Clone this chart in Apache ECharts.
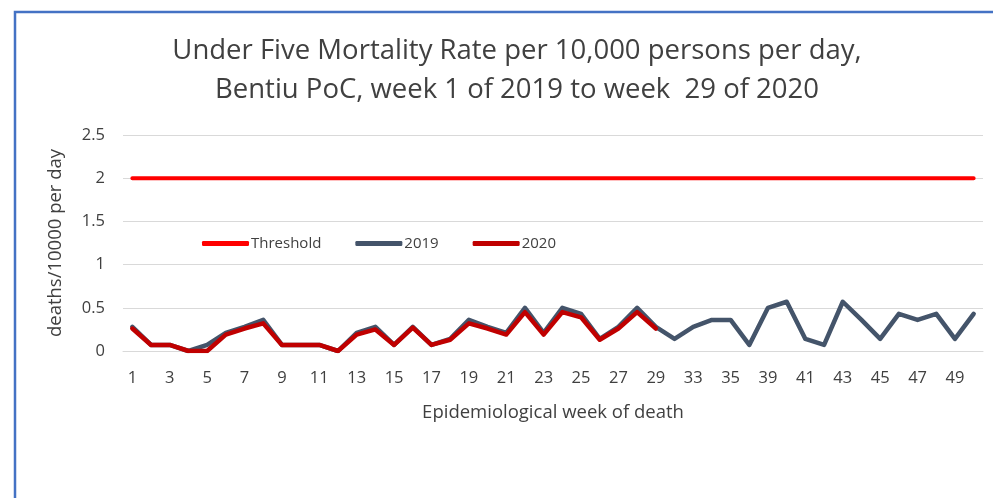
<!DOCTYPE html>
<html>
<head>
<meta charset="utf-8">
<script src="https://cdn.jsdelivr.net/npm/echarts@6/dist/echarts.min.js"></script>
<style>
  html, body { margin: 0; padding: 0; background: #fff; }
  #chart { width: 993px; height: 498px; }
</style>
</head>
<body>
<div id="chart"></div>
<script>
// epidemiological weeks shown on the axis
const weeks = ['1', '2', '3', '4', '5', '6', '7', '8', '9', '10', '11', '12', '13', '14', '15',
  '16', '17', '18', '19', '20', '21', '22', '23', '24', '25', '26', '27', '28', '29', '30',
  '33', '34', '35', '36', '39', '40', '41', '42', '43', '44', '45', '46', '47', '48', '49', '50'];

const threshold = [2, 2, 2, 2, 2, 2, 2, 2, 2, 2, 2, 2, 2, 2, 2, 2, 2, 2, 2, 2, 2, 2, 2,
  2, 2, 2, 2, 2, 2, 2, 2, 2, 2, 2, 2, 2, 2, 2, 2, 2, 2, 2, 2, 2, 2, 2];

const rate2019 = [0.28, 0.07, 0.07, 0, 0.07, 0.21, 0.28, 0.36, 0.07, 0.07, 0.07, 0, 0.21, 0.28, 0.07,
  0.28, 0.07, 0.14, 0.36, 0.28, 0.21, 0.5, 0.21, 0.5, 0.43, 0.14, 0.28, 0.5, 0.28, 0.14,
  0.28, 0.36, 0.36, 0.07, 0.5, 0.57, 0.14, 0.07, 0.57, 0.36, 0.14, 0.43, 0.36, 0.43, 0.14, 0.43];

const rate2020 = [0.26, 0.07, 0.07, 0, 0, 0.19, 0.26, 0.32, 0.07, 0.07, 0.07, 0, 0.19, 0.25, 0.07,
  0.27, 0.07, 0.13, 0.32, 0.26, 0.19, 0.45, 0.19, 0.45, 0.39, 0.13, 0.26, 0.45, 0.26];

const yTicks = [0, 0.5, 1, 1.5, 2, 2.5];

const textColor = '#404040';
const font = 'Open Sans';

const chart = echarts.init(document.getElementById('chart'), null, { renderer: 'canvas' });

const option = {
  animation: false,
  backgroundColor: '#fff',
  textStyle: { fontFamily: font },
  graphic: [
    {
      // outer frame, runs off the right and bottom edges
      type: 'rect',
      shape: { x: 15, y: 12, width: 1000, height: 520 },
      style: { fill: 'none', stroke: '#4472C4', lineWidth: 2.5 },
      silent: true
    }
  ],
  title: {
    text: 'Under Five Mortality Rate per 10,000 persons per day,\nBentiu PoC, week 1 of 2019 to week  29 of 2020',
    left: 512,
    textAlign: 'center',
    top: 27,
    textStyle: {
      fontFamily: font,
      fontSize: 27.5,
      fontWeight: 'normal',
      color: textColor,
      lineHeight: 39
    }
  },
  legend: {
    left: 202,
    top: 236,
    padding: 0,
    icon: 'roundRect',
    itemWidth: 47,
    itemHeight: 5,
    itemGap: 34,
    textStyle: { fontFamily: font, fontSize: 15, color: textColor, padding: [0, 0, 0, -3] },
    data: ['Threshold', '2019', '2020']
  },
  grid: { left: 123, right: 10, top: 135, bottom: 147 },
  xAxis: {
    type: 'category',
    data: weeks,
    boundaryGap: true,
    name: 'Epidemiological week of death',
    nameLocation: 'middle',
    nameGap: 52,
    nameTextStyle: { fontFamily: font, fontSize: 18.5, color: textColor },
    axisLine: { show: true, lineStyle: { color: '#D9D9D9', width: 1 } },
    axisTick: { show: false },
    axisLabel: { interval: 1, margin: 19, fontSize: 16.5, color: textColor, fontFamily: font }
  },
  yAxis: {
    type: 'value',
    min: yTicks[0],
    max: yTicks[yTicks.length - 1],
    interval: 0.5,
    name: 'deaths/10000 per day',
    nameLocation: 'middle',
    nameGap: 58,
    nameTextStyle: { fontFamily: font, fontSize: 18.5, color: textColor },
    axisLine: { show: false },
    axisTick: { show: false },
    axisLabel: { margin: 18, fontSize: 16.5, color: textColor, fontFamily: font },
    splitLine: { lineStyle: { color: '#D9D9D9', width: 1 } }
  },
  series: [
    {
      name: 'Threshold',
      type: 'line',
      data: threshold,
      symbol: 'none',
      color: '#FF0000',
      lineStyle: { color: '#FF0000', width: 4, cap: 'round' },
      z: 2
    },
    {
      name: '2019',
      type: 'line',
      data: rate2019,
      symbol: 'none',
      color: '#44546A',
      lineStyle: { color: '#44546A', width: 4.5, cap: 'round', join: 'round' },
      z: 3
    },
    {
      name: '2020',
      type: 'line',
      data: rate2020,
      symbol: 'none',
      color: '#C00000',
      lineStyle: { color: '#C00000', width: 4.5, cap: 'round', join: 'round' },
      z: 4
    }
  ]
};

chart.setOption(option);

window.addEventListener('resize', () => chart.resize());
</script>
</body>
</html>
